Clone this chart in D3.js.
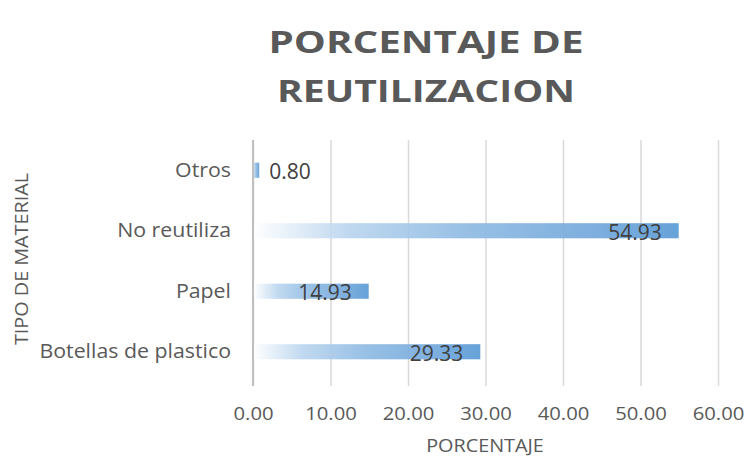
<!DOCTYPE html>
<html>
<head>
<meta charset="utf-8">
<script src="https://cdn.jsdelivr.net/npm/d3@7"></script>
<style>
  body { margin: 0; background: #ffffff; }
  svg { display: block; }
</style>
</head>
<body>
<svg id="chart" width="748" height="457"></svg>
<script>
// Reuse percentage by material type
const categories = ["Botellas de plastico", "Papel", "No reutiliza", "Otros"];
const values = [29.33, 14.93, 54.93, 0.80];
const xTicks = [0, 10, 20, 30, 40, 50, 60];
const titleLines = ["PORCENTAJE DE", "REUTILIZACION"];

const svg = d3.select("#chart");
const plot = { left: 253, right: 718, top: 140, bottom: 382 };
const labelFont = "'Open Sans', sans-serif";
const fmt = d3.format(".2f");

// Widen text horizontally by factor k, keeping its anchor
function stretch(sel, k) {
  sel.each(function () {
    const w = this.getComputedTextLength();
    d3.select(this).attr("textLength", w * k).attr("lengthAdjust", "spacingAndGlyphs");
  });
}
function fitWidth(sel, widths) {
  sel.each(function (d, i) {
    d3.select(this).attr("textLength", widths[i]).attr("lengthAdjust", "spacingAndGlyphs");
  });
}

const x = d3.scaleLinear().domain([0, 60]).range([plot.left, plot.right]);
const y = d3.scaleBand()
  .domain(categories.slice().reverse())
  .range([plot.top, plot.bottom])
  .paddingInner(0.75)
  .paddingOuter(0.375);

// Per-bar horizontal gradient: white fading into blue
const defs = svg.append("defs");
const grad = defs.append("linearGradient")
  .attr("id", "barGrad")
  .attr("x1", "0").attr("y1", "0").attr("x2", "1").attr("y2", "0");
[[0, "#ffffff"], [0.22, "#bcd6ef"], [0.5, "#90bbe3"], [0.8, "#74a9dc"], [1, "#5b9bd5"]]
  .forEach(([o, c]) => grad.append("stop").attr("offset", o).attr("stop-color", c));

// Vertical gridlines with tick marks below the plot
const xAxis = d3.axisBottom(x)
  .tickValues(xTicks)
  .tickSize(-(plot.bottom - plot.top))
  .tickFormat(fmt);
const gx = svg.append("g")
  .attr("transform", `translate(0,${plot.bottom})`)
  .call(xAxis);
gx.select(".domain").remove();
gx.selectAll(".tick line")
  .attr("stroke", "#d9d9d9")
  .attr("stroke-width", 1.5)
  .attr("y1", -(plot.bottom - plot.top))
  .attr("y2", 4);
const tickText = gx.selectAll(".tick text")
  .attr("y", 38)
  .attr("dy", null)
  .attr("fill", "#595959")
  .style("font-family", labelFont)
  .style("font-size", "18.6px");
stretch(tickText, 1.09);

// Bars
svg.append("g").selectAll("rect")
  .data(categories.map((c, i) => ({ c, v: values[i] })))
  .join("rect")
  .attr("x", x(0))
  .attr("y", d => y(d.c))
  .attr("width", d => x(d.v) - x(0))
  .attr("height", y.bandwidth())
  .attr("fill", "url(#barGrad)")
  .attr("fill-opacity", 0.93);

// Zero axis line
svg.append("line")
  .attr("x1", x(0)).attr("x2", x(0))
  .attr("y1", plot.top).attr("y2", plot.bottom + 4)
  .attr("stroke", "#bfbfbf").attr("stroke-width", 2);

// Value labels: inside the bar end, or just outside when the bar is short
svg.append("g").selectAll("text")
  .data(categories.map((c, i) => ({ c, v: values[i] })))
  .join("text")
  .attr("x", d => d.v < 5 ? x(d.v) + 10 : x(d.v) - 17)
  .attr("y", d => y(d.c) + y.bandwidth() / 2 + 9)
  .attr("text-anchor", d => d.v < 5 ? "start" : "end")
  .attr("fill", "#404040")
  .style("font-family", labelFont)
  .style("font-size", "21px")
  .text(d => fmt(d.v));

// Category labels
const catText = svg.append("g").selectAll("text")
  .data(categories)
  .join("text")
  .attr("x", 231)
  .attr("y", d => y(d) + y.bandwidth() / 2 + 6.5)
  .attr("text-anchor", "end")
  .attr("fill", "#595959")
  .style("font-family", labelFont)
  .style("font-size", "19.4px")
  .text(d => d);
stretch(catText, 1.1);

// Title
const titleText = svg.append("g").selectAll("text")
  .data(titleLines)
  .join("text")
  .attr("x", 426)
  .attr("y", (d, i) => 53 + i * 49)
  .attr("text-anchor", "middle")
  .attr("fill", "#595959")
  .style("font-family", "'Open Sans', sans-serif")
  .style("font-weight", "700")
  .style("font-size", "30px")
  .text(d => d);
fitWidth(titleText, [315, 298]);

// Axis titles
const xTitle = svg.append("text")
  .attr("x", 485)
  .attr("y", 452)
  .attr("text-anchor", "middle")
  .attr("fill", "#595959")
  .style("font-family", labelFont)
  .style("font-size", "18px")
  .text("PORCENTAJE");
stretch(xTitle, 1.1);

const yTitle = svg.append("text")
  .attr("transform", "translate(28,259) rotate(-90)")
  .attr("text-anchor", "middle")
  .attr("fill", "#595959")
  .style("font-family", labelFont)
  .style("font-size", "18px")
  .text("TIPO DE MATERIAL");
stretch(yTitle, 1.1);
</script>
</body>
</html>
